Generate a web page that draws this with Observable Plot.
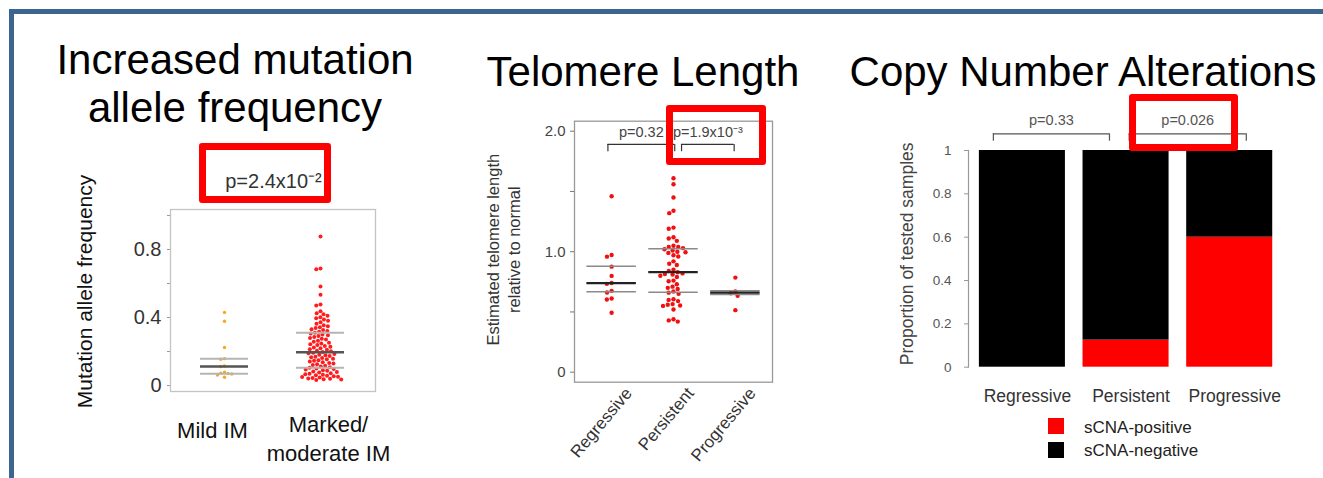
<!DOCTYPE html>
<html><head><meta charset="utf-8">
<script src="https://cdn.jsdelivr.net/npm/d3@7"></script>
<script src="https://cdn.jsdelivr.net/npm/@observablehq/plot@0.6"></script>
<style>
html,body{margin:0;padding:0;background:#fff;overflow:hidden;}
#root{position:relative;width:1323px;height:478px;overflow:hidden;font-family:"Liberation Sans",Arial,sans-serif;background:#fff;}
.border{position:absolute;left:9px;top:9px;width:1400px;height:600px;border:5px solid #3d6592;box-sizing:border-box;}
.title{position:absolute;font-size:42px;color:#000;white-space:nowrap;text-align:center;}
.hl{position:absolute;border:7px solid #ff0000;border-radius:3px;box-sizing:border-box;}
.panel{position:absolute;}
.leg{position:absolute;font-size:17px;color:#222;line-height:1;}
.sw{position:absolute;width:16px;height:16px;}
</style></head><body><div id="root"></div>
<script>
// ---------------- Panel 1: mutation allele frequency ----------------
const imGroups = ["Mild IM", "Marked/\nmoderate IM"];
const mildIM = [0.43, 0.378, 0.224, 0.158, 0.155, 0.115, 0.112, 0.079, 0.073, 0.071, 0.068, 0.062, 0.049];
const markedIM = [0.876, 0.688, 0.684, 0.582, 0.534, 0.476, 0.471, 0.437, 0.425, 0.419, 0.41, 0.402, 0.396, 0.388, 0.381, 0.372, 0.363, 0.355, 0.349, 0.343, 0.338, 0.331, 0.326, 0.321, 0.316, 0.311, 0.306, 0.3, 0.296, 0.291, 0.286, 0.28, 0.275, 0.27, 0.263, 0.258, 0.252, 0.247, 0.243, 0.238, 0.232, 0.228, 0.223, 0.219, 0.214, 0.21, 0.205, 0.201, 0.197, 0.193, 0.19, 0.186, 0.181, 0.178, 0.174, 0.17, 0.166, 0.162, 0.158, 0.154, 0.149, 0.146, 0.142, 0.137, 0.133, 0.129, 0.125, 0.121, 0.116, 0.112, 0.108, 0.104, 0.1, 0.097, 0.094, 0.09, 0.087, 0.083, 0.08, 0.077, 0.073, 0.07, 0.067, 0.064, 0.061, 0.058, 0.055, 0.052, 0.05, 0.047, 0.045, 0.042, 0.04, 0.037, 0.035, 0.032];
const imMedian = [0.112, 0.196];
const imLower = [0.069, 0.104];
const imUpper = [0.157, 0.31];
const imYTicks = [0, 0.2, 0.4, 0.6, 0.8, 1.0];
const imYLabels = ["0", "", "0.4", "", "0.8", ""];
const imPValue = "p=2.4x10⁻²";
const imYTitle = "Mutation allele frequency";

// ---------------- Panel 2: telomere length ----------------
const tlGroups = ["Regressive", "Persistent", "Progressive"];
const tlRegressive = [1.46, 0.972, 0.959, 0.876, 0.799, 0.74, 0.733, 0.675, 0.661, 0.612, 0.603, 0.493];
const tlPersistent = [1.61, 1.56, 1.45, 1.34, 1.32, 1.2, 1.19, 1.12, 1.11, 1.09, 1.05, 1.04, 1.04, 1.03, 1.02, 1.01, 1.0, 0.995, 0.99, 0.97, 0.96, 0.92, 0.9, 0.89, 0.85, 0.84, 0.83, 0.82, 0.815, 0.81, 0.8, 0.79, 0.76, 0.755, 0.73, 0.71, 0.7, 0.69, 0.67, 0.66, 0.65, 0.605, 0.6, 0.59, 0.565, 0.56, 0.553, 0.55, 0.52, 0.44, 0.43, 0.42];
const tlProgressive = [0.785, 0.67, 0.655, 0.634, 0.515];
const tlMedian = [0.74, 0.83, 0.66];
const tlLower = [0.667, 0.664, 0.645];
const tlUpper = [0.88, 1.025, 0.675];
const tlYTicks = [0, 0.5, 1.0, 1.5, 2.0];
const tlYLabels = ["0", "", "1.0", "", "2.0"];
const tlPLabels = ["p=0.32", "p=1.9x10⁻³"];
const tlYTitle = "Estimated telomere length\nrelative to normal";

// ---------------- Panel 3: copy number alterations ----------------
const cnaGroups = ["Regressive", "Persistent", "Progressive"];
const cnaSeries = ["sCNA-positive", "sCNA-negative"];
const cnaPositive = [0, 0.125, 0.6];
const cnaNegative = [1, 0.875, 0.4];
const cnaYTicks = [0, 0.2, 0.4, 0.6, 0.8, 1];
const cnaYLabels = ["0", "0.2", "0.4", "0.6", "0.8", "1"];
const cnaPLabels = ["p=0.33", "p=0.026"];
const cnaYTitle = "Proportion of tested samples";
const cnaColors = ["#ff0000", "#000000"];

// ================= drawing =================
const root = document.getElementById("root");
const FONT = '"Liberation Sans", Arial, sans-serif';
function add(el, left, top) {
  el.classList.add("panel");
  el.style.left = left + "px"; el.style.top = top + "px";
  root.appendChild(el);
  return el;
}
function div(cls, css, html) {
  const d = document.createElement("div");
  d.className = cls; d.style.cssText = css; if (html != null) d.textContent = html;
  root.appendChild(d); return d;
}
function swarm(values, i, spec, xs, o) {
  const mid = (spec.marginLeft + spec.width - spec.marginRight) / 2;
  return Plot.dot(values, Plot.dodgeX({anchor: "middle", padding: o.padding},
    {y: d => d, r: o.r, fill: o.fill, dx: xs.apply(i) - mid}));
}

div("border", "");

// --- Panel 1
{
  const spec = {width: 345, height: 330, marginLeft: 110, marginRight: 30, marginTop: 69, marginBottom: 79};
  const xDomain = [-0.5625, 1.573];
  const xs = Plot.scale({x: {domain: xDomain, range: [spec.marginLeft, spec.width - spec.marginRight]}});
  const idx = imGroups.map((d, i) => i);
  const chart = Plot.plot({
    ...spec,
    style: {fontFamily: FONT, color: "#333", background: "transparent", overflow: "visible"},
    x: {domain: xDomain, axis: null},
    y: {domain: [-0.035, 1.035]},
    marks: [
      Plot.frame({stroke: "#c4c4c4", strokeWidth: 1.3}),
      Plot.axisY({ticks: imYTicks, tickFormat: d => imYLabels[imYTicks.indexOf(d)], tickSize: 3, tickPadding: 6, fontSize: 20, label: null, stroke: "#999", fill: "#333"}),
      swarm(mildIM, 0, spec, xs, {r: 1.7, fill: "#f6a81e", padding: 0.4}),
      swarm(markedIM, 1, spec, xs, {r: 2, fill: "#ff1c1c", padding: 0.3}),
      Plot.ruleY(idx, {y: i => imLower[i], x1: i => i - 0.25, x2: i => i + 0.25, stroke: "#b5b5b5", strokeWidth: 2}),
      Plot.ruleY(idx, {y: i => imUpper[i], x1: i => i - 0.25, x2: i => i + 0.25, stroke: "#b5b5b5", strokeWidth: 2}),
      Plot.ruleY(idx, {y: i => imMedian[i], x1: i => i - 0.25, x2: i => i + 0.25, stroke: "#555", strokeWidth: 2.4}),
      Plot.text([imGroups[0]], {x: 0, frameAnchor: "bottom", dx: -12, dy: 39, lineAnchor: "middle", fontSize: 22, fill: "#111"}),
      Plot.text([imGroups[1]], {x: 1, frameAnchor: "bottom", dx: 8, dy: 46, lineAnchor: "middle", lineHeight: 1.32, fontSize: 22, fill: "#111"}),
      Plot.text([imYTitle], {frameAnchor: "left", textAnchor: "middle", rotate: -90, dx: -85, dy: -9, fontSize: 21, fill: "#111"}),
      Plot.text([imPValue], {x: 0.51, frameAnchor: "top", dy: -36, fontSize: 20, fill: "#333"})
    ]
  });
  add(chart, 60, 140);
}

// --- Panel 2
{
  const spec = {width: 320, height: 375, marginLeft: 104, marginRight: 18, marginTop: 25.7, marginBottom: 88.3};
  const xDomain = [-0.6, 2.6];
  const xs = Plot.scale({x: {domain: xDomain, range: [spec.marginLeft, spec.width - spec.marginRight]}});
  const idx = tlGroups.map((d, i) => i);
  const series = [tlRegressive, tlPersistent, tlProgressive];
  const brackets = [[-0.06, 1.02], [1.13, 1.98]];
  const chart = Plot.plot({
    ...spec,
    style: {fontFamily: FONT, color: "#444", background: "transparent", overflow: "visible"},
    x: {domain: xDomain, axis: null},
    y: {domain: [-0.083, 2.083]},
    marks: [
      Plot.frame({stroke: "#999", strokeWidth: 1.3}),
      Plot.axisY({ticks: tlYTicks, tickFormat: d => tlYLabels[tlYTicks.indexOf(d)], tickSize: 4, tickPadding: 5, fontSize: 15, label: null, stroke: "#777", fill: "#444"}),
      ...series.map((s, i) => swarm(s, i, spec, xs, {r: 2.2, fill: "#f01010", padding: 0.5})),
      Plot.ruleY(idx, {y: i => tlLower[i], x1: i => i - 0.4, x2: i => i + 0.4, stroke: "#8a8a8a", strokeWidth: 1.5}),
      Plot.ruleY(idx, {y: i => tlUpper[i], x1: i => i - 0.4, x2: i => i + 0.4, stroke: "#8a8a8a", strokeWidth: 1.5}),
      Plot.ruleY(idx, {y: i => tlMedian[i], x1: i => i - 0.4, x2: i => i + 0.4, stroke: "#222", strokeWidth: 2.2}),
      Plot.ruleY(brackets, {y: 1.89, x1: d => d[0], x2: d => d[1], stroke: "#333", strokeWidth: 1.2}),
      Plot.ruleX(brackets.flat(), {x: d => d, y1: 1.83, y2: 1.89, stroke: "#333", strokeWidth: 1.2}),
      Plot.text(tlPLabels, {x: (d, i) => (brackets[i][0] + brackets[i][1]) / 2, y: 1.99, fontSize: 14.5, fill: "#444"}),
      Plot.text(tlGroups, {x: (d, i) => i, frameAnchor: "bottom", rotate: -50, textAnchor: "end", lineAnchor: "middle", dx: 17, dy: 8, fontSize: 17, fill: "#333"}),
      Plot.text([tlYTitle], {frameAnchor: "left", textAnchor: "middle", rotate: -90, dx: -71.5, dy: -2, lineHeight: 1.27, fontSize: 16.5, fill: "#333"})
    ]
  });
  add(chart, 470, 95);
}

// --- Panel 3
{
  const spec = {width: 450, height: 320, marginLeft: 108, marginRight: 30, marginTop: 60, marginBottom: 43.3};
  const xDomain = [-0.52, 2.49];
  const rows = [];
  cnaGroups.forEach((g, i) => {
    rows.push({i, series: cnaSeries[0], y1: 0, y2: cnaPositive[i]});
    rows.push({i, series: cnaSeries[1], y1: cnaPositive[i], y2: cnaPositive[i] + cnaNegative[i]});
  });
  const brackets = [[-0.28, 0.84], [1.03, 2.16]];
  const chart = Plot.plot({
    ...spec,
    style: {fontFamily: FONT, color: "#555", background: "transparent", overflow: "visible"},
    x: {domain: xDomain, axis: null},
    y: {domain: [0, 1]},
    color: {domain: cnaSeries, range: cnaColors},
    marks: [
      Plot.rect(rows, {x1: d => d.i - 0.415, x2: d => d.i + 0.415, y1: "y1", y2: "y2", fill: "series"}),
      Plot.frame({anchor: "left", stroke: "#999", strokeWidth: 1.2}),
      Plot.axisY({ticks: cnaYTicks, tickFormat: d => cnaYLabels[cnaYTicks.indexOf(d)], tickSize: 4, tickPadding: 13, fontSize: 13.5, label: null, stroke: "#999", fill: "#555"}),
      Plot.ruleY(brackets, {y: 1.077, x1: d => d[0], x2: d => d[1], stroke: "#555", strokeWidth: 1.2}),
      Plot.ruleX(brackets.flat(), {x: d => d, y1: 1.043, y2: 1.077, stroke: "#555", strokeWidth: 1.2}),
      Plot.text(cnaPLabels, {x: (d, i) => (brackets[i][0] + brackets[i][1]) / 2, y: 1.138, fontSize: 14.5, fill: "#555"}),
      Plot.text(cnaGroups, {x: (d, i) => i, frameAnchor: "bottom", dy: 35, dx: 5, fontSize: 17.5, fill: "#333"}),
      Plot.text([cnaYTitle], {frameAnchor: "left", textAnchor: "middle", rotate: -90, dx: -61, dy: -5, fontSize: 17.5, fill: "#444"})
    ]
  });
  add(chart, 860, 90);
  // legend
  cnaSeries.forEach((s, i) => {
    div("sw", `left:1048px;top:${418 + i * 24}px;background:${cnaColors[i]};`);
    div("leg", `left:1084px;top:${419 + i * 23}px;`, s);
  });
}

// titles
div("title", "left:-15px;top:36px;width:500px;line-height:48px;", null).innerHTML = "Increased mutation<br>allele frequency";
div("title", "left:393px;top:51px;width:500px;line-height:42px;", "Telomere Length");
div("title", "left:833px;top:51px;width:500px;line-height:42px;", "Copy Number Alterations");

// red highlight boxes
div("hl", "left:199px;top:143px;width:132px;height:60px;");
div("hl", "left:666px;top:105px;width:100px;height:60px;");
div("hl", "left:1129px;top:94px;width:109px;height:57px;");
</script></body></html>
